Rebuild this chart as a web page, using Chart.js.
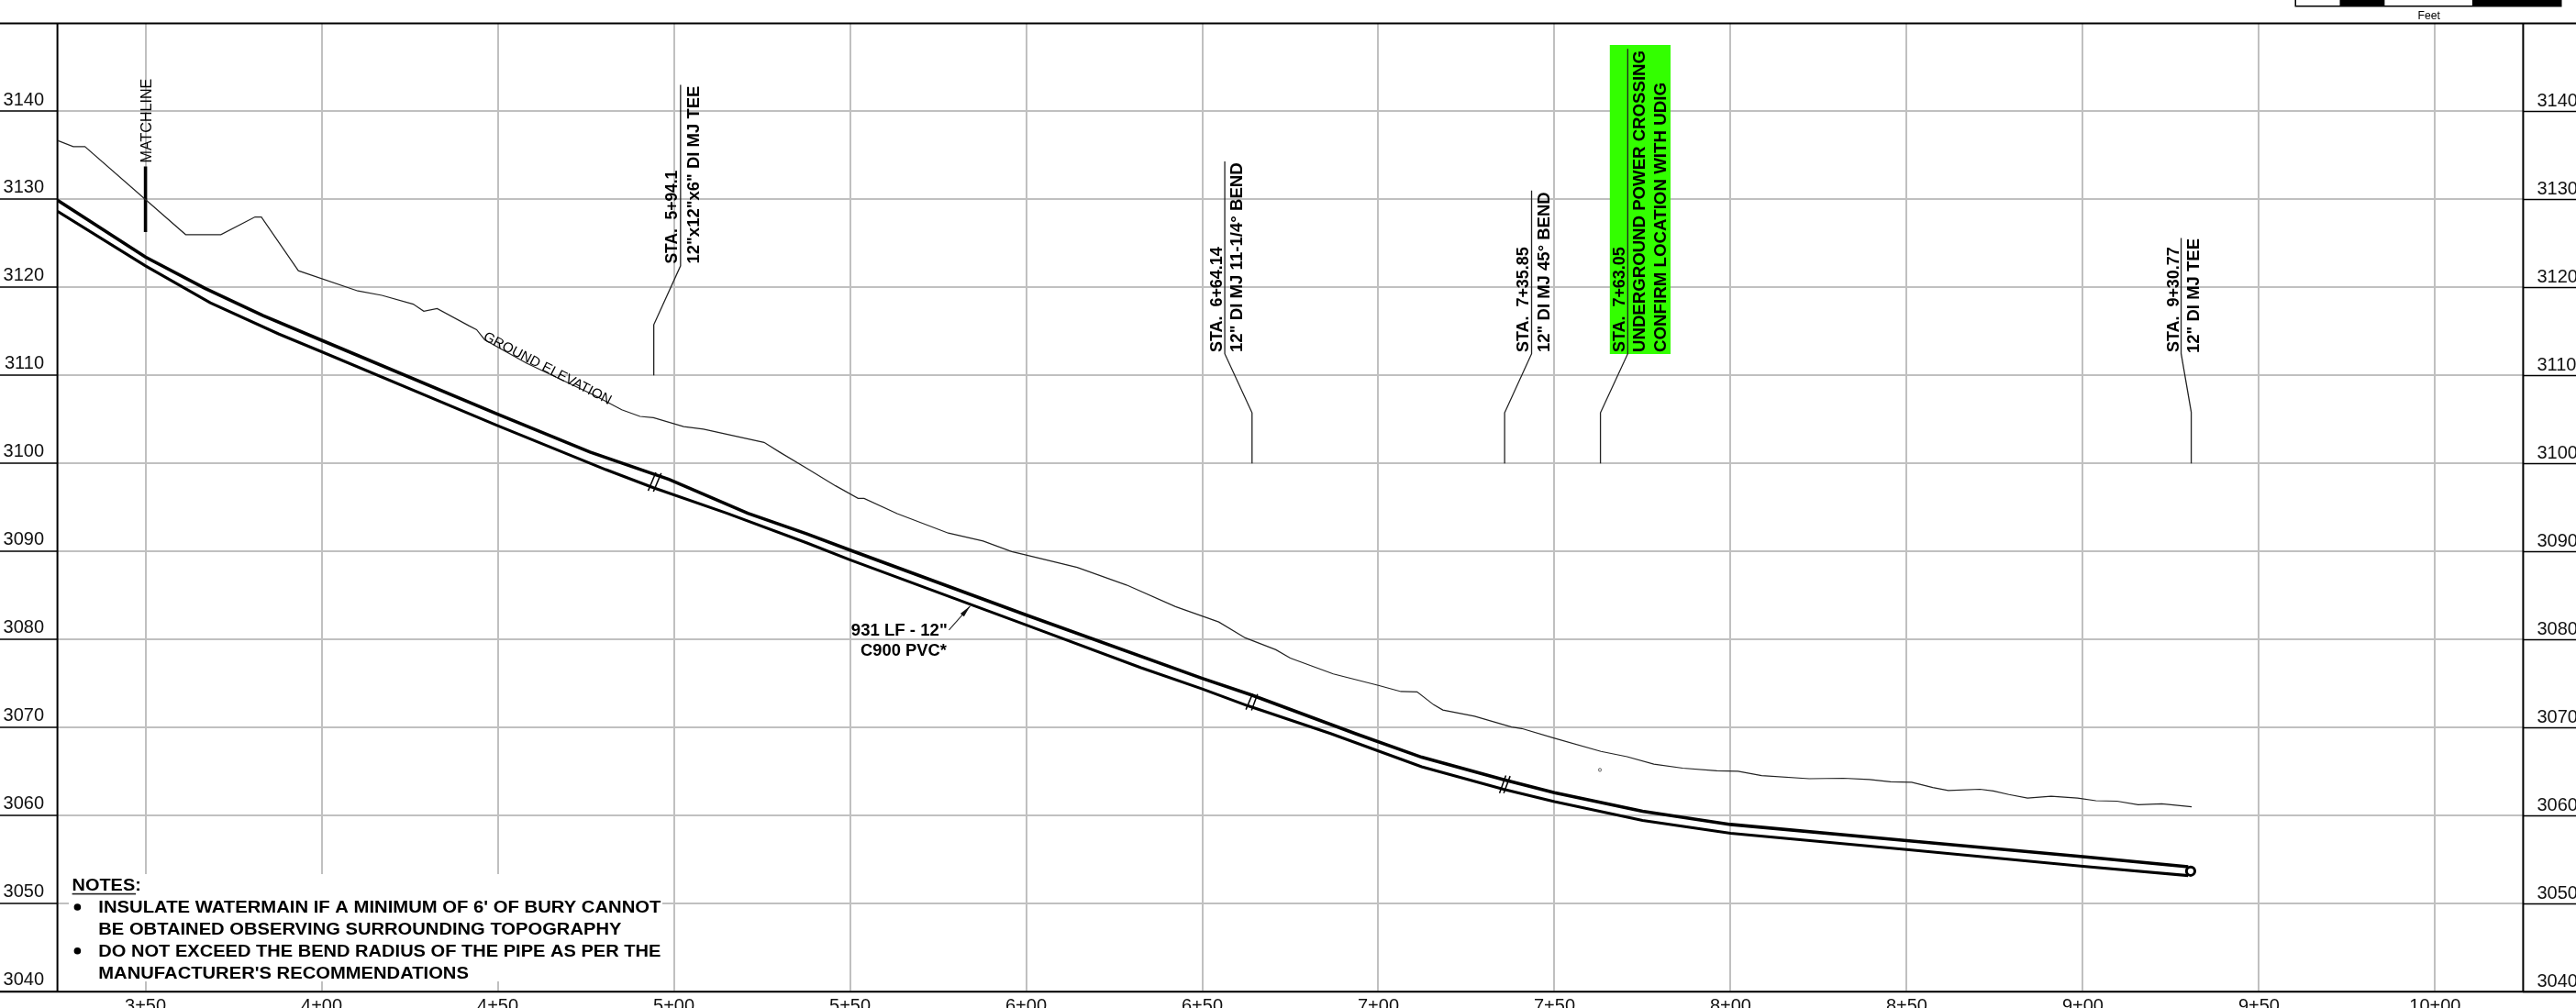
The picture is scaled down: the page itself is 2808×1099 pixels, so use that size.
<!DOCTYPE html>
<html><head><meta charset="utf-8">
<style>html,body{margin:0;padding:0;background:#fff;overflow:hidden}canvas{display:block}</style>
<script src="https://cdn.jsdelivr.net/npm/chart.js@4"></script>
</head><body><canvas id="c" width="2808" height="1099"></canvas>
<script>
const xTickStations=[350,400,450,500,550,600,650,700,750,800,850,900,950,1000];
const yTickElevations=[3040,3050,3060,3070,3080,3090,3100,3110,3120,3130,3140];

const groundSta=[325,329.5,332.8,361.4,371.4,381.1,382.9,393.4,410.3,417.1,426,429,432.8,441.8,444,446.3,458.2,477.7,485.2,490.4,494.2,502.8,508.4,525.6,530,537.8,545.9,552.3,554,563.4,577.9,587.8,595.9,600,614.5,628.5,642.4,654.7,662.2,670.9,675,687.2,700,706.4,711,715.7,718.3,727.3,737.8,740.7,750,763.2,770.6,778.2,786.4,796.1,802.1,808.8,822.3,832,839.4,845.4,851.4,857.4,861.8,870.8,874.6,879,884.3,891,898.5,903.7,909.7,915.7,922.4,930.9];
const groundElev=[3136.7,3136,3136,3126,3126,3128,3128,3121.9,3119.6,3119.1,3118.1,3117.3,3117.6,3115.65,3115.2,3114.05,3111.4,3107.7,3106.1,3105.35,3105.2,3104.2,3103.9,3102.4,3101.3,3099.44,3097.47,3096.04,3096.04,3094.3,3092.1,3091.2,3090,3089.6,3088.2,3086.2,3083.75,3082,3080.2,3078.85,3077.9,3076.1,3074.8,3074.1,3074.06,3072.6,3072,3071.3,3070.07,3069.9,3068.8,3067.3,3066.7,3065.85,3065.4,3065.1,3065.05,3064.55,3064.2,3064.25,3064.1,3063.85,3063.8,3063.2,3062.85,3063,3062.8,3062.4,3062,3062.2,3062,3061.7,3061.65,3061.25,3061.35,3061];

const pipeTopSta=[325,350,366.9,383.4,400,450,476.2,498.6,521,537.8,550,600,650,664,693.6,712.3,735.5,750,775,800,850,900,929.9];
const pipeTopElev=[3129.9,3123.45,3119.9,3116.8,3114,3105.6,3101.3,3098.2,3094.35,3092,3090.17,3082.8,3075.6,3073.7,3069.3,3066.64,3064.1,3062.6,3060.5,3059,3057.16,3055.35,3054.2];
const pipeBotSta=[325,350,368.4,387.9,400,450,480.7,494.2,515.1,537.8,550,600,632.6,650,662.8,686.6,712.3,735.5,750,775,800,850,900,929.9];
const pipeBotElev=[3128.66,3122.45,3118.25,3114.7,3112.7,3104.3,3099.3,3097.25,3094.35,3090.97,3089.06,3081.66,3076.8,3074.4,3072.5,3069.3,3065.56,3063,3061.6,3059.45,3058,3056.15,3054.25,3053.2];

const leader594Sta=[494.3,494.3,501.9,501.9];
const leader594Elev=[3110,3115.76,3122.45,3143];
const leader664Sta=[664.14,664.14,656.4,656.4];
const leader664Elev=[3100,3105.76,3112.47,3134.3];
const leader735Sta=[735.85,735.85,743.5,743.5];
const leader735Elev=[3100,3105.76,3112.47,3131];
const leader763Sta=[763.05,763.05,770.8,770.8];
const leader763Elev=[3100,3105.76,3112.47,3147.1];
const leader930Sta=[930.77,930.77,927.9,927.9];
const leader930Elev=[3100,3105.83,3112.5,3125.6];

const matchlineSta=[350,350];
const matchlineElev=[3133.75,3126.3];
const calloutSta=[578.1,584.1];
const calloutElev=[3081.08,3083.8];

const breakASta=[492.7,494.9], breakAElev=[3096.9,3099];
const breakBSta=[494.2,496.4], breakBElev=[3096.8,3098.9];
const breakCSta=[662.4,664.3], breakCElev=[3072.05,3073.85];
const breakDSta=[664,665.7], breakDElev=[3071.95,3073.8];
const breakESta=[734.4,736.2], breakEElev=[3062.55,3064.56];
const breakFSta=[735.6,737.4], breakFElev=[3062.55,3064.5];

const capSta=[930.6], capElev=[3053.7];
const dotSta=[762.9], dotElev=[3065.2];

const stationText=["STA.  5+94.1","STA.  6+64.14","STA.  7+35.85","STA.  7+63.05","STA.  9+30.77"];
const fittingText=["12\"x12\"x6\" DI MJ TEE","12\" DI MJ 11-1/4\u00B0 BEND","12\" DI MJ 45\u00B0 BEND","UNDERGROUND POWER CROSSING","12\" DI MJ TEE"];
const notesText=["INSULATE WATERMAIN IF A MINIMUM OF 6' OF BURY CANNOT","BE OBTAINED OBSERVING SURROUNDING TOPOGRAPHY","DO NOT EXCEED THE BEND RADIUS OF THE PIPE AS PER THE","MANUFACTURER'S RECOMMENDATIONS"];

const zip=(a,b)=>a.map((v,i)=>({x:v,y:b[i]}));
const line=(sx,ey,w,c)=>({data:zip(sx,ey),showLine:true,borderColor:c||'#111',borderWidth:w,pointRadius:0,tension:0,fill:false});

const SANS='"Liberation Sans"';
function fit(ctx,text,x,y,font,width,rot){
  ctx.save();ctx.translate(x,y);if(rot)ctx.rotate(rot);
  ctx.font=font;ctx.textAlign='left';ctx.textBaseline='alphabetic';ctx.fillStyle='#000';
  const m=ctx.measureText(text).width;ctx.scale(width/m,1);ctx.fillText(text,0,0);ctx.restore();
}

const drawing={id:'drawing',
  beforeDatasetsDraw(ch){
    const c=ch.ctx,a=ch.chartArea;
    c.save();
    c.fillStyle='#fff';c.fillRect(75,953,647,117);
    c.fillStyle='#33ff00';c.fillRect(1754.8,49,66.2,337);
    c.strokeStyle='#000';c.lineWidth=2;c.beginPath();
    c.moveTo(0,a.top);c.lineTo(2808,a.top);
    c.moveTo(0,a.bottom);c.lineTo(2808,a.bottom);
    c.moveTo(a.left,a.top);c.lineTo(a.left,a.bottom);
    c.moveTo(a.right,a.top);c.lineTo(a.right,a.bottom);
    c.stroke();
    // scale bar
    c.fillStyle='#000';c.fillRect(2501.5,0,291,7.5);
    c.fillStyle='#fff';c.fillRect(2503,0,47.5,6);c.fillRect(2599.4,0,95.5,6);
    c.restore();
  },
  afterDatasetsDraw(ch){
    const c=ch.ctx,xs=ch.scales.x,ys=ch.scales.y,R=-Math.PI/2,B='bold 19px '+SANS;
    // callout arrow head
    const tx=xs.getPixelForValue(calloutSta[1]),ty=ys.getPixelForValue(calloutElev[1]);
    const fx=xs.getPixelForValue(calloutSta[0]),fy=ys.getPixelForValue(calloutElev[0]);
    const an=Math.atan2(ty-fy,tx-fx);
    c.save();c.translate(tx,ty);c.rotate(an);c.fillStyle='#111';c.beginPath();c.moveTo(0,0);c.lineTo(-13,-2.6);c.lineTo(-13,2.6);c.closePath();c.fill();c.restore();

    fit(c,"Feet",2635.5,21,'12px '+SANS,24.5);
    fit(c,"MATCHLINE",165.3,177.5,'17px '+SANS,91.8,R);
    fit(c,"GROUND ELEVATION",526,370,'15px '+SANS,155,27.4*Math.PI/180);

    fit(c,stationText[0],737.7,287.5,B,101.8,R);
    fit(c,fittingText[0],761.8,287.5,B,193.9,R);
    fit(c,stationText[1],1331.5,384,B,114.7,R);
    fit(c,fittingText[1],1354.1,384,B,206.7,R);
    fit(c,stationText[2],1666.4,384,B,114.7,R);
    fit(c,fittingText[2],1689,384,B,174.7,R);
    fit(c,stationText[3],1771.2,384,B,114.7,R);
    fit(c,fittingText[3],1793.4,384,B,329,R);
    fit(c,"CONFIRM LOCATION WITH UDIG",1816.4,384,B,294,R);
    fit(c,stationText[4],2374.5,384,B,114.7,R);
    fit(c,fittingText[4],2397,385,B,125,R);

    fit(c,'931 LF - 12"',927.8,692.7,B,104.9);
    fit(c,'C900 PVC*',938,715,B,93.8);

    fit(c,"NOTES:",78.6,971,B,75.2);
    c.fillStyle='#222';c.fillRect(78.6,973.8,69.5,1.6);
    fit(c,notesText[0],107.3,995,B,613.1);
    fit(c,notesText[1],107.3,1019,B,570.1);
    fit(c,notesText[2],107.3,1043.3,B,613.1);
    fit(c,notesText[3],107.3,1066.7,B,403.6);
    c.fillStyle='#000';
    [989,1036.7].forEach(y=>{c.beginPath();c.arc(84.4,y,3.8,0,Math.PI*2);c.fill();});
  }
};

new Chart(document.getElementById('c'),{
  type:'scatter',
  data:{datasets:[
    line(groundSta,groundElev,1.2,'#222'),
    line(pipeTopSta,pipeTopElev,3.6,'#000'),
    line(pipeBotSta,pipeBotElev,3.1,'#000'),
    line(leader594Sta,leader594Elev,1.3,'#222'),
    line(leader664Sta,leader664Elev,1.3,'#222'),
    line(leader735Sta,leader735Elev,1.3,'#222'),
    line(leader763Sta,leader763Elev,1.3,'#222'),
    line(leader930Sta,leader930Elev,1.3,'#222'),
    line(matchlineSta,matchlineElev,3.6,'#000'),
    line(calloutSta,calloutElev,1.1,'#222'),
    line(breakASta,breakAElev,1.5,'#000'),line(breakBSta,breakBElev,1.5,'#000'),
    line(breakCSta,breakCElev,1.5,'#000'),line(breakDSta,breakDElev,1.5,'#000'),
    line(breakESta,breakEElev,1.5,'#000'),line(breakFSta,breakFElev,1.5,'#000'),
    {data:zip(capSta,capElev),pointRadius:4.6,pointBorderWidth:3,pointBorderColor:'#000',pointBackgroundColor:'#fff'},
    {data:zip(dotSta,dotElev),pointRadius:1.6,pointBorderWidth:0.8,pointBorderColor:'#333',pointBackgroundColor:'#fff'}
  ]},
  plugins:[drawing],
  options:{
    responsive:false,animation:false,devicePixelRatio:1,
    layout:{padding:{top:25.4,left:0,right:0,bottom:0}},
    plugins:{legend:{display:false},title:{display:false},tooltip:{enabled:false}},
    scales:{
      x:{type:'linear',min:325,max:1025,
        afterBuildTicks:s=>{s.ticks=xTickStations.map(v=>({value:v}))},
        afterFit:s=>{s.height=17.7},
        border:{display:false},
        grid:{color:'#c0c0c0',lineWidth:2,drawTicks:false,borderDash:[13,5],borderDashOffset:4},
        ticks:{autoSkip:false,maxRotation:0,minRotation:0,padding:4,color:'#111',font:{family:SANS,size:20},
          callback:v=>Math.floor(v/100)+'+'+String(v%100).padStart(2,'0')}},
      y:{type:'linear',position:'left',min:3040,max:3150,
        afterBuildTicks:s=>{s.ticks=yTickElevations.map(v=>({value:v}))},
        afterFit:s=>{s.width=62.6},
        border:{display:false},
        grid:{color:'#c0c0c0',lineWidth:2,tickLength:62.6,tickColor:'#000',tickWidth:1.6,tickBorderDash:[],borderDash:[14,4],borderDashOffset:8},
        ticks:{padding:-48,labelOffset:-12.4,color:'#111',font:{family:SANS,size:20},callback:v=>String(v)}},
      yRight:{type:'linear',position:'right',min:3040,max:3150,
        afterBuildTicks:s=>{s.ticks=yTickElevations.map(v=>({value:v}))},
        afterFit:s=>{s.width=57.6},
        border:{display:false},
        grid:{drawOnChartArea:false,tickLength:57.6,tickColor:'#000',tickWidth:1.6,tickBorderDash:[]},
        ticks:{padding:-42.6,labelOffset:-11,color:'#111',font:{family:SANS,size:20},callback:v=>String(v)}}
    }
  }
});
</script></body></html>
